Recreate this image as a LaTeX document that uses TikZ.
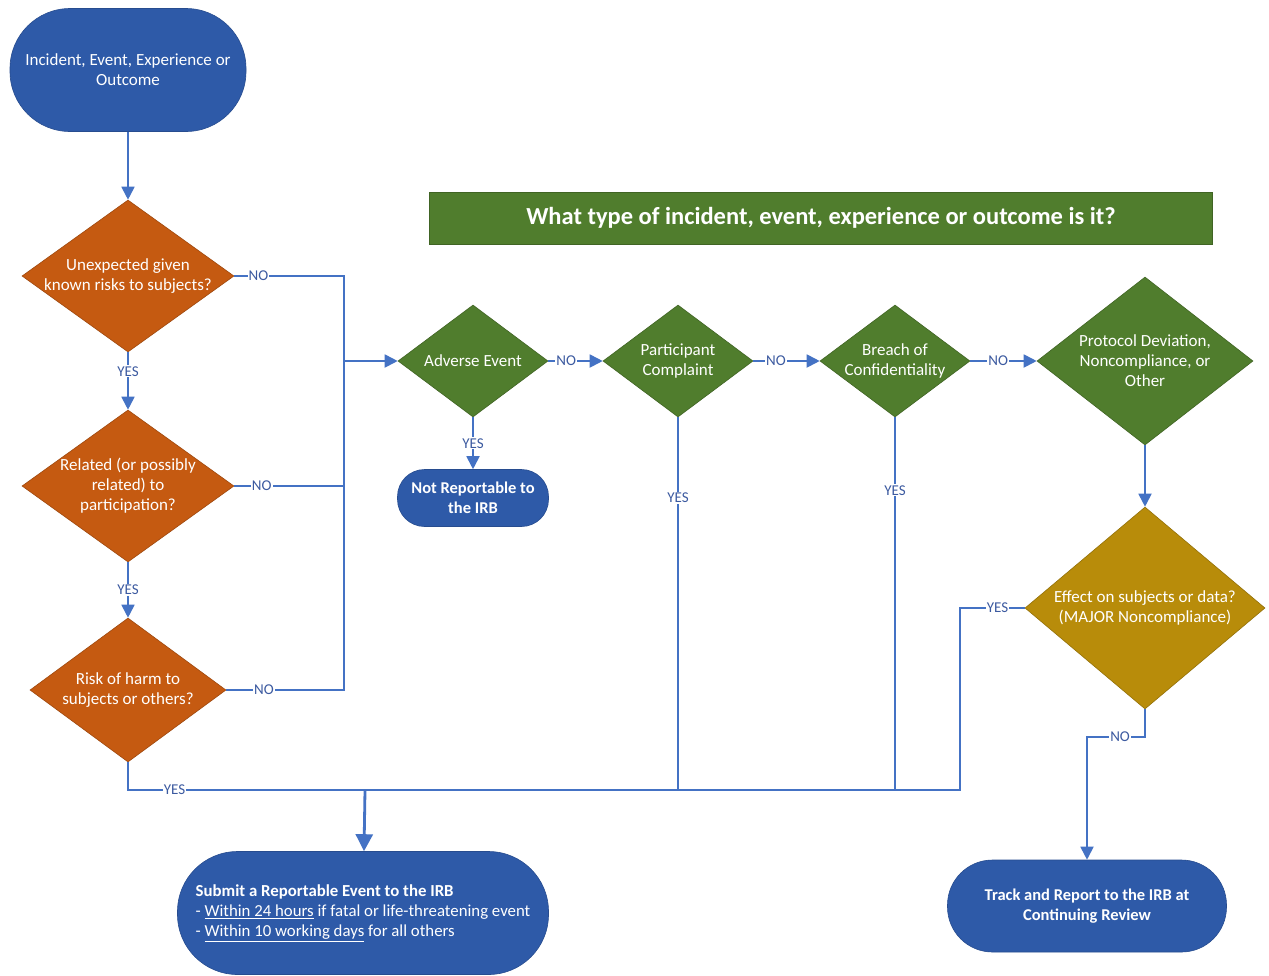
\documentclass[tikz,border=0pt]{standalone}
\usepackage{fontspec}
\setmainfont{Carlito}
\usetikzlibrary{shapes.geometric,arrows.meta}
\definecolor{termblue}{RGB}{46,90,168}
\definecolor{orng}{RGB}{197,90,17}
\definecolor{grn}{RGB}{80,125,45}
\definecolor{gold}{RGB}{184,140,10}
\definecolor{linecol}{RGB}{68,114,196}
\definecolor{lblcol}{RGB}{60,90,160}
\begin{document}
\begin{tikzpicture}[x=1pt,y=-1pt,
  term/.style={draw=termblue!85!black, line width=0.6pt, fill=termblue, text=white, align=center,
    font=\fontsize{17}{20}\selectfont, inner sep=0pt},
  dia/.style={diamond, draw=#1!80!black, fill=#1, line width=0.6pt, inner sep=0pt},
  dtext/.style={text=white, align=center, font=\fontsize{17}{20}\selectfont, inner sep=0pt},
  line/.style={draw=linecol, line width=1.8pt},
  arr/.style={line, -{Triangle[length=13pt,width=13pt]}},
  lbl/.style={fill=white, text=lblcol, inner sep=1pt, font=\fontsize{15}{16}\selectfont},
]
\useasboundingbox (0,0) rectangle (1269,975);
\fill[white] (0,0) rectangle (1269,975);

% title
\node[fill=grn, draw=grn!80!black, line width=0.6pt, minimum width=783pt, minimum height=52pt, text=white,
  font=\bfseries\fontsize{24.5}{28}\selectfont] (title) at (821,218) {What type of incident, event, experience or outcome is it?};

% terminators
\node[term, minimum width=236pt, minimum height=123pt, rounded corners=60pt] (start) at (128,70)
  {Incident, Event, Experience or\\Outcome};
\node[term, minimum width=151pt, minimum height=57pt, rounded corners=27pt, font=\bfseries\fontsize{16.5}{20}\selectfont] (nr) at (473,498)
  {Not Reportable to\\the IRB};
\node[term, minimum width=371pt, minimum height=123pt, rounded corners=60pt, align=left,
  font=\fontsize{16.8}{20}\selectfont] (submit) at (363,913)
  {\textbf{Submit a Reportable Event to the IRB}\\- \underline{Within 24 hours} if fatal or life-threatening event\\- \underline{Within 10 working days} for all others};
\node[term, minimum width=279pt, minimum height=92pt, rounded corners=45pt, font=\bfseries\fontsize{16.5}{20}\selectfont] (track) at (1087,906)
  {Track and Report to the IRB at\\Continuing Review};

% decision diamonds
\node[dia=orng, minimum width=212pt, minimum height=152pt,
  label={[dtext]center:{Unexpected given\\known risks to subjects?}}] (d1) at (128,276) {};
\node[dia=orng, minimum width=212pt, minimum height=152pt,
  label={[dtext]center:{Related (or possibly\\related) to\\participation?}}] (d2) at (128,486) {};
\node[dia=orng, minimum width=196pt, minimum height=144pt,
  label={[dtext]center:{Risk of harm to\\subjects or others?}}] (d3) at (128,690) {};

\node[dia=grn, minimum width=150pt, minimum height=112pt,
  label={[dtext]center:{Adverse Event}}] (ae) at (473,361) {};
\node[dia=grn, minimum width=150pt, minimum height=112pt,
  label={[dtext]center:{Participant\\Complaint}}] (pc) at (678,361) {};
\node[dia=grn, minimum width=150pt, minimum height=112pt,
  label={[dtext]center:{Breach of\\Confidentiality}}] (bc) at (895,361) {};
\node[dia=grn, minimum width=216pt, minimum height=168pt,
  label={[dtext]center:{Protocol Deviation,\\Noncompliance, or\\Other}}] (pd) at (1145,361) {};
\node[dia=gold, minimum width=240pt, minimum height=202pt,
  label={[dtext]center:{Effect on subjects or data?\\(MAJOR Noncompliance)}}] (eff) at (1145,608) {};

% helper coordinates
\coordinate (busT) at (344,276);
\coordinate (busB) at (344,690);
\coordinate (jn) at (365,790);
\coordinate (yesE) at (960,790);
\coordinate (noC) at (1087,737);

% left column
\draw[arr] (start) -- (d1);
\draw[arr] (d1) -- node[lbl, pos=0.33]{YES} (d2);
\draw[arr] (d2) -- node[lbl, pos=0.5]{YES} (d3);

% NO bus
\draw[line] (d1.east) -- node[lbl, pos=0.22]{NO} (busT) -- (busB) -- node[lbl, pos=0.68]{NO} (d3.east);
\draw[line] (d2.east) -- node[lbl, pos=0.25]{NO} (d2.east -| busT);
\draw[arr] (ae.west -| busT) -- (ae);

% type chain
\draw[arr] (ae) -- node[lbl, pos=0.33]{NO} (pc);
\draw[arr] (pc) -- node[lbl, pos=0.34]{NO} (bc);
\draw[arr] (bc) -- node[lbl, pos=0.42]{NO} (pd);
\draw[arr] (pd) -- (eff);
\draw[arr] (ae) -- node[lbl, pos=0.5]{YES} (nr);

% YES bus at bottom
\draw[line] (eff.west) -- node[lbl, pos=0.42]{YES} (eff.west -| yesE) -- (yesE)
  -- node[lbl, pos=0.944]{YES} (d3.south |- yesE) -- (d3.south);
\draw[line] (pc.south) -- node[lbl, pos=0.217]{YES} (pc.south |- yesE);
\draw[line] (bc.south) -- node[lbl, pos=0.196]{YES} (bc.south |- yesE);
\draw[line, line width=2.8pt, -{Triangle[length=17pt,width=17pt]}] (jn) -- (submit);

% NO to track
\draw[arr] (eff.south) -- (eff.south |- noC) -- node[lbl, pos=0.43]{NO} (noC) -- (track);
\end{tikzpicture}
\end{document}
